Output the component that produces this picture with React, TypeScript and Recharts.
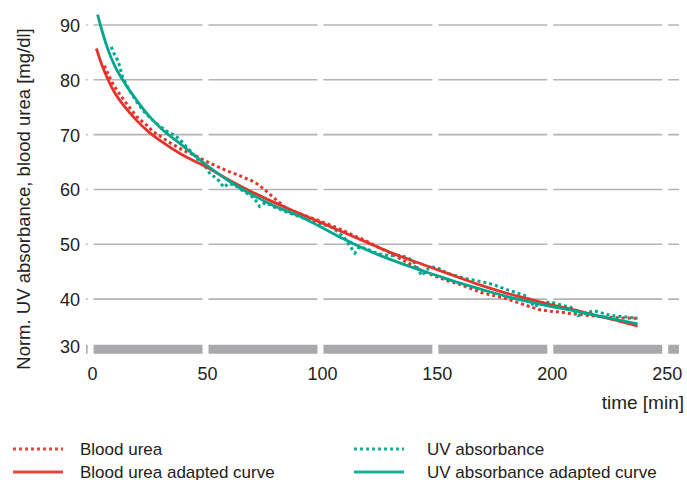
import React from 'react';
import { LineChart, Line, XAxis, YAxis, CartesianGrid, Label } from 'recharts';

const RED = '#e5332a';
const GREEN = '#00a78d';
const FONT = '"Liberation Sans", Arial, sans-serif';

const xTicks = [0, 50, 100, 150, 200, 250];
const yTicks = [30, 40, 50, 60, 70, 80, 90];

// measured blood urea
const ureaTime = [6, 8, 10, 15, 20, 25, 27, 30, 35, 40, 45, 50, 55, 60, 65, 70, 73, 77, 80, 85, 90, 95, 100, 105, 110, 115, 120, 125, 130, 135, 140, 145, 150, 155, 160, 165, 170, 175, 180, 185, 190, 195, 200, 205, 210, 215, 220, 225, 230, 238];
const ureaValues = [82.6, 80.7, 79.0, 76.0, 73.3, 71.5, 70.6, 69.8, 68.4, 67.2, 66.3, 65.2, 64.2, 63.3, 62.5, 61.6, 60.9, 59.5, 58.4, 56.6, 55.7, 55.0, 54.2, 53.4, 52.5, 51.5, 50.6, 49.5, 48.5, 47.3, 46.2, 45.0, 44.2, 43.4, 42.8, 42.0, 41.2, 40.7, 40.2, 39.5, 38.8, 38.1, 37.8, 37.6, 37.3, 37.1, 36.9, 36.7, 36.6, 36.5];

// measured UV absorbance (normalised)
const uvTime = [9, 10.5, 12, 14, 17, 20, 23, 26, 30, 34, 37, 40, 42, 44, 46, 50, 52, 55, 58, 60, 63, 66, 70, 72, 73.5, 76, 80, 85, 90, 95, 100, 104, 106, 110, 113, 115, 117, 120, 125, 130, 134, 138, 141, 144, 147, 150, 155, 160, 165, 170, 175, 180, 185, 190, 193, 196, 200, 205, 209, 212, 215, 219, 223, 227, 232, 238];
const uvValues = [86.0, 84.5, 83.4, 80.4, 78.0, 76.0, 74.3, 73.0, 71.6, 70.4, 69.8, 68.6, 67.6, 66.8, 65.8, 64.2, 62.8, 62.0, 60.4, 61.1, 60.7, 59.8, 58.8, 57.9, 56.9, 57.6, 56.8, 55.9, 55.2, 54.4, 53.7, 53.3, 52.8, 51.4, 49.6, 48.4, 49.6, 49.2, 48.3, 47.9, 48.0, 47.6, 46.6, 44.3, 45.6, 45.9, 44.8, 44.1, 43.6, 43.2, 42.7, 41.9, 41.2, 40.5, 38.6, 39.3, 39.5, 38.9, 38.5, 37.0, 37.4, 37.9, 37.4, 37.0, 36.8, 36.5];

// adapted curves
const ureaFitTime = [2.5, 5, 7.5, 10, 15, 20, 25, 30, 40, 50, 60, 70, 80, 90, 100, 110, 120, 130, 140, 150, 160, 170, 180, 190, 200, 210, 220, 230, 238];
const ureaFitValues = [85.7, 82.6, 80.1, 78.0, 75.0, 72.6, 70.6, 69.0, 66.3, 64.2, 61.8, 59.6, 57.6, 55.8, 54.0, 52.2, 50.4, 48.6, 47.0, 45.5, 44.0, 42.5, 41.2, 40.1, 39.0, 38.1, 37.0, 36.0, 35.1];
const uvFitTime = [3, 5, 7.5, 10, 15, 20, 25, 30, 40, 50, 60, 70, 80, 90, 100, 110, 120, 130, 140, 150, 160, 170, 180, 190, 200, 210, 220, 230, 238];
const uvFitValues = [91.9, 88.9, 85.6, 83.0, 79.3, 76.3, 73.6, 71.4, 68.0, 64.6, 61.6, 59.1, 57.0, 55.3, 53.2, 51.0, 49.0, 47.3, 45.8, 44.4, 43.0, 41.8, 40.6, 39.6, 38.7, 37.9, 37.0, 36.2, 35.5];

const toRows = (ts: number[], vs: number[]) => ts.map((t, i) => ({ t, v: vs[i] }));

const ureaData = toRows(ureaTime, ureaValues);
const uvData = toRows(uvTime, uvValues);
const ureaFitData = toRows(ureaFitTime, ureaFitValues);
const uvFitData = toRows(uvFitTime, uvFitValues);

const legendItems = [
  { name: 'Blood urea', color: RED, dashed: true, x: 13, y: 449 },
  { name: 'Blood urea adapted curve', color: RED, dashed: false, x: 13, y: 472 },
  { name: 'UV absorbance', color: GREEN, dashed: true, x: 354, y: 449 },
  { name: 'UV absorbance adapted curve', color: GREEN, dashed: false, x: 354, y: 472 },
];

const hLine = (props: any) => {
  const { x1, x2, y1, index } = props;
  if (y1 > 350) {
    // the thick grey base band
    return <line key={`h-${index}`} x1={x1} x2={x2} y1={y1 - 4.7} y2={y1 - 4.7} stroke="#a9a9ac" strokeWidth={9} />;
  }
  return <line key={`h-${index}`} x1={x1} x2={x2} y1={y1} y2={y1} stroke="#b4b4b4" strokeWidth={1.6} />;
};

// white vertical lines cut the gaps into the horizontal grid
const vLine = (props: any) => {
  const { x1, y1, y2, index } = props;
  return <line key={`v-${index}`} x1={x1} x2={x1} y1={y1} y2={y2 + 2} stroke="#ffffff" strokeWidth={6} />;
};

const XTick = (props: any) => {
  const { x, y, payload } = props;
  return (
    <text x={x + 2} y={y + 18} textAnchor="middle" dominantBaseline="central" fontSize={18} fill="#222" fontFamily={FONT}>
      {payload.value}
    </text>
  );
};

const YTick = (props: any) => {
  const { x, y, payload } = props;
  const dy = payload.value === 30 ? -7 : 1;
  return (
    <text x={x} y={y + dy} textAnchor="end" dominantBaseline="central" fontSize={18} fill="#222" fontFamily={FONT}>
      {payload.value}
    </text>
  );
};

const App: React.FC = () => {
  return (
    <div style={{ position: 'absolute', left: 0, top: 0, width: 687, height: 480, background: '#fff', fontFamily: FONT }}>
      <LineChart width={687} height={480} margin={{ top: 14, right: 8, left: 36, bottom: 96 }}>
        <CartesianGrid
          horizontal={hLine}
          vertical={vLine}
          horizontalValues={yTicks}
          verticalValues={xTicks}
        />
        <XAxis
          type="number"
          dataKey="t"
          domain={[-2, 256]}
          ticks={xTicks}
          axisLine={false}
          tickLine={false}
          tickSize={0}
          height={30}
          tick={<XTick />}
          allowDataOverflow
        >
          <Label
            content={() => (
              <text x={684} y={402} textAnchor="end" dominantBaseline="central" fontSize={19} fill="#222" fontFamily={FONT}>
                time [min]
              </text>
            )}
          />
        </XAxis>
        <YAxis
          type="number"
          domain={[30, 92]}
          ticks={yTicks}
          axisLine={false}
          tickLine={false}
          tickSize={0}
          tickMargin={6}
          width={50}
          tick={<YTick />}
          allowDataOverflow
        >
          <Label
            content={() => (
              <text
                x={23}
                y={199}
                transform="rotate(-90, 23, 199)"
                textAnchor="middle"
                dominantBaseline="central"
                fontSize={18.5}
                fill="#222"
                fontFamily={FONT}
              >
                Norm. UV absorbance, blood urea [mg/dl]
              </text>
            )}
          />
        </YAxis>
        <Line data={ureaData} dataKey="v" type="linear" stroke={RED} strokeWidth={3} strokeDasharray="3 3" dot={false} isAnimationActive={false} />
        <Line data={uvData} dataKey="v" type="linear" stroke={GREEN} strokeWidth={3} strokeDasharray="3 3" dot={false} isAnimationActive={false} />
        <Line data={ureaFitData} dataKey="v" type="monotone" stroke={RED} strokeWidth={2.8} dot={false} isAnimationActive={false} />
        <Line data={uvFitData} dataKey="v" type="monotone" stroke={GREEN} strokeWidth={2.8} dot={false} isAnimationActive={false} />
      </LineChart>
      <svg width={687} height={480} style={{ position: 'absolute', left: 0, top: 0, pointerEvents: 'none' }}>
        {legendItems.map((item) => (
          <g key={item.name}>
            <line
              x1={item.x}
              x2={item.x + 50}
              y1={item.y}
              y2={item.y}
              stroke={item.color}
              strokeWidth={3}
              strokeDasharray={item.dashed ? '3 3' : undefined}
              opacity={0.9}
            />
            <text x={item.x + 67 + (item.x > 100 ? 6 : 0)} y={item.y} dominantBaseline="central" fontSize={17} fill="#222" fontFamily={FONT}>
              {item.name}
            </text>
          </g>
        ))}
      </svg>
    </div>
  );
};

export default App;
